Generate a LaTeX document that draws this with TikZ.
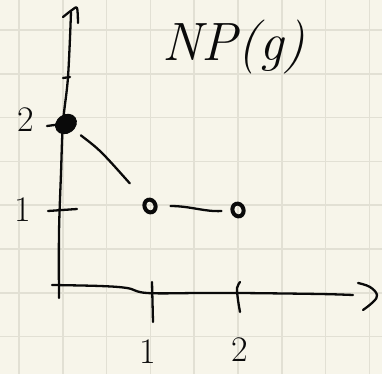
\documentclass[tikz,border=0pt]{standalone}
\usetikzlibrary{shapes.geometric}
\definecolor{paper}{HTML}{F7F5EA}
\definecolor{gridc}{HTML}{E2E0D4}
\definecolor{ink}{HTML}{0A0A0A}
\tikzset{
  pen/.style={draw=ink, line width=2.3pt, line cap=round, line join=round},
  lbl/.style={text=ink, inner sep=0pt, font=\fontsize{36}{36}\selectfont},
  fullpt/.style={ellipse, fill=ink, draw=ink, line width=1pt, minimum width=22pt, minimum height=18pt, inner sep=0pt, rotate=35},
  holept/.style={ellipse, draw=ink, line width=4pt, minimum width=11pt, minimum height=13pt, inner sep=0pt, rotate=20},
}
\begin{document}
\begin{tikzpicture}[x=1pt,y=-1pt]
\useasboundingbox (0,0) rectangle (382,374);
\fill[paper] (0,0) rectangle (382,374);
% grid
\foreach \i in {0,...,8} {
  \draw[gridc, line width=1.6pt] ({19+43.8*\i},0) -- ({19+43.8*\i},374);
}
\foreach \j in {0,...,7} {
  \draw[gridc, line width=1.6pt] (0,{30+43.8*\j}) -- (382,{30+43.8*\j});
}
% y axis
\draw[pen] plot[smooth, tension=0.6] coordinates {(71,12) (68,77) (63,123) (61,173) (59,233) (59,298)};
\draw[pen] plot[smooth, tension=0.5] coordinates {(63,17) (72,10) (77,8) (78,23)};
\draw[pen] (63,78) -- (70,77);
% x axis
\draw[pen] plot[smooth, tension=0.6] coordinates {(52,285) (100,286) (127,288) (147,293) (200,293) (240,293) (320,294) (353,295)};
\draw[pen] plot[smooth, tension=0.7] coordinates {(358,283) (370,287) (377,295) (373,302) (363,310)};
% ticks
\draw[pen] (152,282) -- (153,322);
\draw[pen] plot[smooth] coordinates {(240,282) (237,288) (238,300) (240,312)};
\draw[pen] (48,211) -- (77,209);
\draw[pen] (47,126) -- (62,124);
% labels
\node[lbl] (xl1) at (148,352) {1};
\node[lbl] (xl2) at (240,350) {2};
\node[lbl] (yl1) at (23,210) {1};
\node[lbl] (yl2) at (26,120) {2};
\node[text=ink, inner sep=0pt, font=\fontsize{54}{54}\selectfont\itshape] (title) at (234,47) {NP(g)};
% points
\node[fullpt] (p0) at (66,124) {};
\node[holept] (p1) at (150,206) {};
\node[holept] (p2) at (238,210) {};
% connectors
\draw[pen] (p0) .. controls (100,150) .. (p1) [shorten <=9pt, shorten >=22pt];
\draw[pen, shorten <=13pt, shorten >=9pt] (p1) .. controls (190,206) and (205,212) .. (p2);
\end{tikzpicture}
\end{document}
